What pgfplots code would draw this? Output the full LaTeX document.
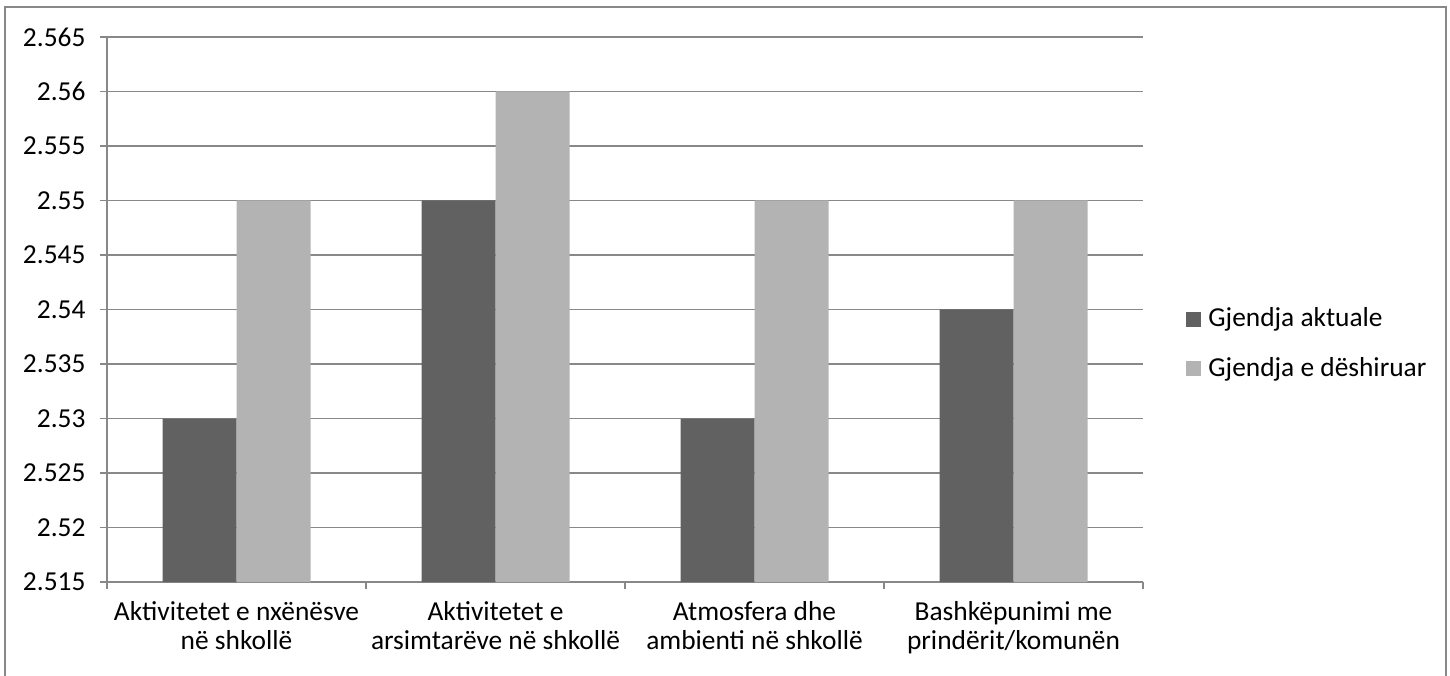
\documentclass[border=0pt]{standalone}
\usepackage{fontspec}
\setmainfont{Carlito}
\usepackage{pgfplots}
\pgfplotsset{compat=1.18}

\definecolor{darkbar}{HTML}{616161}
\definecolor{lightbar}{HTML}{B3B3B3}
\definecolor{gridgray}{HTML}{888888}

\newcommand{\chartfont}{\fontsize{13.7}{14.3}\selectfont}

\begin{document}
\chartfont
\begin{tikzpicture}[x=0.5pt,y=0.5pt]
	\path[use as bounding box] (0,0) rectangle (1450,675);
	\begin{scope}
		\clip (0,0) rectangle (1450,675);
		\draw[gridgray,line width=0.8pt] (5,-20) -- (5,668) -- (1446,668) -- (1446,-20);
	\end{scope}
	\begin{axis}[at={(53.5pt,46.5pt)},anchor=south west,
		scale only axis,
		width=518pt,
		height=272.5pt,
		xmin=0, xmax=4,
		ymin=2.515, ymax=2.565,
		ytick={2.515,2.52,...,2.566},
		xtick={0,1,2,3,4},
		xticklabels={},
		extra x ticks={0.5,1.5,2.5,3.5},
		extra x tick labels={Aktivitetet e nxënësve\\në shkollë,
			Aktivitetet e\\arsimtarëve në shkollë,
			Atmosfera dhe\\ambienti në shkollë,
			Bashkëpunimi me\\prindërit/komunën},
		extra x tick style={major tick length=0pt, xticklabel style={align=center, yshift=-5pt}},
		axis x line*=bottom,
		axis y line*=left,
		axis line style={gridgray, line width=0.8pt, -},
		tick style={gridgray, line width=0.8pt},
		tick align=outside,
		major tick length=3.5pt,
		ymajorgrids,
		grid style={gridgray, line width=0.8pt},
		yticklabel style={xshift=-2.5pt, /pgf/number format/.cd, fixed, precision=3, assume math mode=true},
		ticklabel style={font=\chartfont},
		ybar=0pt,
		bar width=37pt,
		legend style={at={(1.0415,0.4367)}, anchor=west, draw=none, fill=none,
			inner sep=0pt, font=\chartfont, row sep=9pt,
			legend cell align=left,
			nodes={inner xsep=3.5pt}},
		legend image code/.code={\fill[#1] (0pt,-3.75pt) rectangle (7.5pt,3.75pt);},
		]
		\addplot[fill=darkbar, draw=none] coordinates {(0.5,2.53) (1.5,2.55) (2.5,2.53) (3.5,2.54)};
		\addlegendentry{Gjendja aktuale}
		\addplot[fill=lightbar, draw=none] coordinates {(0.5,2.55) (1.5,2.56) (2.5,2.55) (3.5,2.55)};
		\addlegendentry{Gjendja e dëshiruar}
	\end{axis}
\end{tikzpicture}
\end{document}
